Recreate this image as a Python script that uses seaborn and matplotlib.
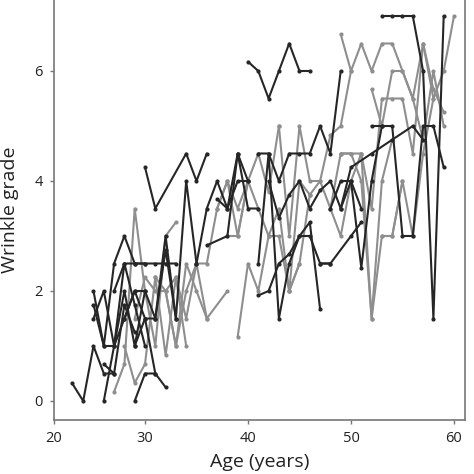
import numpy as np
import pandas as pd
import matplotlib
matplotlib.use("Agg")
import matplotlib.pyplot as plt
import seaborn as sns

# Longitudinal wrinkle grades, one list pair per subject
dark_ages = [
    [22.9, 24, 25, 26, 27],
    [25, 26, 27, 28, 29, 30],
    [25, 26, 27, 28, 29, 30],
    [25, 26, 27, 28, 29, 30, 31],
    [26, 27, 28, 29, 30],
    [26, 27, 28, 29],
    [29, 30, 31, 32],
    [27, 28, 29, 30, 31, 32, 33],
    [28, 29, 30, 31, 32, 33, 34, 35],
    [29, 30, 31, 32, 33],
    [30, 31, 34, 35, 36],
    [35, 36, 37, 38, 39, 40, 41],
    [36, 38, 39, 40],
    [37, 38, 39, 40],
    [40, 41, 42, 43, 44, 45, 46],
    [41, 42, 43, 44, 45, 46, 47, 48, 49],
    [41, 42, 43, 44, 45, 46, 47, 48],
    [41, 42, 43, 44, 45, 46, 47],
    [42, 43, 44, 45, 46, 47, 48, 49, 50, 51],
    [47, 48, 50, 51],
    [48, 49, 50, 51, 52, 53],
    [49, 50, 52, 54, 56, 57],
    [52, 53, 54, 55, 56, 57, 58, 59],
    [53, 54, 55, 56, 57, 58, 59],
]
dark_grades = [
    [0.33, 0.0, 1.0, 0.5, 0.5],
    [2.0, 1.0, 2.5, 3.0, 2.5, 2.5],
    [1.5, 2.0, 1.0, 2.0, 1.0, 2.0],
    [1.75, 1.0, 1.0, 1.5, 2.0, 1.5, 0.5],
    [0.0, 1.0, 2.5, 1.75, 1.0],
    [0.67, 0.5, 1.75, 1.25],
    [0.0, 0.5, 0.5, 0.25],
    [2.0, 2.5, 2.5, 2.5, 2.5, 2.5, 2.5],
    [1.5, 2.0, 2.0, 1.5, 2.75, 1.5, 4.0, 2.5],
    [1.0, 1.5, 1.5, 3.0, 1.5],
    [4.25, 3.5, 4.5, 4.0, 4.5],
    [2.5, 3.5, 4.0, 3.5, 4.5, 3.5, 3.5],
    [2.83, 3.0, 4.5, 4.0],
    [3.67, 3.5, 4.0, 4.0],
    [6.17, 6.0, 5.5, 6.0, 6.5, 6.0, 6.0],
    [4.5, 4.5, 4.0, 4.5, 4.5, 4.5, 5.0, 4.5, 6.0],
    [2.5, 4.5, 1.5, 2.5, 3.0, 3.0, 2.5, 2.5],
    [1.92, 2.0, 2.5, 2.67, 3.0, 3.25, 1.67],
    [4.0, 3.33, 3.75, 4.0, 3.5, 3.83, 4.0, 3.5, 4.0, 3.5],
    [2.5, 2.5, 3.0, 3.25],
    [3.5, 4.0, 4.0, 2.42, 4.0, 5.0],
    [3.5, 4.25, 4.5, 4.75, 5.0, 4.75],
    [5.0, 5.0, 5.0, 3.0, 3.0, 5.0, 5.0, 4.25],
    [7.0, 7.0, 7.0, 7.0, 6.0, 1.5, 7.0],
]

gray_ages = [
    [27, 28, 29, 30, 31, 32, 33],
    [28, 29, 30, 31, 32, 33, 34],
    [29, 30, 31, 32, 33, 34, 35, 36],
    [31, 32, 33, 34, 35, 36, 38],
    [32, 33, 34, 35, 36, 37, 38, 39, 40],
    [39, 40, 41, 42, 43, 44, 45],
    [37, 38, 39, 40, 41, 42, 43],
    [38, 39, 40, 41, 42, 43, 44, 45, 46],
    [43, 44, 45, 46, 47, 48, 49, 50, 51],
    [44, 45, 46, 47, 48, 49, 50],
    [49, 50, 51, 52, 53, 54, 55, 56, 57, 58],
    [48, 49, 50, 51, 52, 53, 54, 55],
    [52, 53, 54, 55, 56, 57, 58, 59],
    [53, 54, 55, 56, 57, 58, 59, 60],
    [51, 52, 53, 54, 55, 56, 57, 58, 59],
    [49, 50, 51, 52, 53, 54],
]
gray_grades = [
    [0.17, 0.67, 3.5, 2.0, 1.0, 3.0, 3.25],
    [1.0, 0.33, 0.67, 2.25, 0.83, 2.25, 1.0],
    [1.5, 2.25, 2.0, 2.0, 1.0, 2.5, 2.0, 1.5],
    [2.25, 2.0, 2.25, 1.5, 2.5, 1.5, 2.0],
    [2.0, 1.0, 2.0, 2.5, 2.5, 3.5, 4.0, 3.0, 4.0],
    [1.17, 2.5, 2.0, 3.0, 3.0, 2.0, 2.5],
    [3.5, 4.0, 3.5, 4.0, 4.5, 3.8, 5.0],
    [3.0, 3.0, 4.0, 3.5, 3.0, 3.5, 2.0, 2.5, 3.75],
    [5.0, 3.0, 5.0, 4.0, 4.0, 3.5, 3.0, 4.0, 4.5],
    [2.0, 4.0, 3.75, 4.0, 4.83, 5.0, 6.0],
    [6.67, 6.0, 6.5, 6.0, 6.5, 6.5, 6.0, 5.5, 6.5, 5.5],
    [3.5, 4.5, 4.5, 4.5, 1.5, 3.0, 3.0, 4.0],
    [5.67, 5.0, 6.0, 6.0, 5.5, 4.75, 6.0, 5.0],
    [3.0, 3.0, 4.0, 3.0, 4.5, 5.5, 6.0, 7.0],
    [4.5, 3.5, 5.5, 5.5, 5.5, 4.5, 6.5, 5.67, 5.25],
    [4.5, 4.5, 4.0, 1.5, 4.0, 4.75],
]

x_ticks = [30, 40, 50, 60]
y_ticks = [0, 2, 4, 6]

# build long table
rows = []
sid = 0
for group, ages, grades in [("dark", dark_ages, dark_grades), ("gray", gray_ages, gray_grades)]:
    for a, g in zip(ages, grades):
        for ai, gi in zip(a, g):
            rows.append({"subject": sid, "age": ai, "grade": gi, "group": group})
        sid += 1
df = pd.DataFrame(rows)

sns.set_style("white")
plt.rcParams['font.family'] = ['Open Sans', 'DejaVu Sans']

fig = plt.figure(figsize=(4.74, 4.74), dpi=100)
ax = fig.add_axes([54 / 474, 54 / 474, 411 / 474, 420 / 474])

palette = {"dark": "#262626", "gray": "#8e8e8e"}
# gray first so dark lines sit on top
for grp in ["gray", "dark"]:
    sns.lineplot(data=df[df.group == grp], x="age", y="grade", units="subject",
                 estimator=None, color=palette[grp], marker="o", markersize=3,
                 markeredgewidth=0, linewidth=1.5, ax=ax, legend=False)

x_left = 30 - 91 / 10.3
ax.set_xlim(x_left, 30 + 320 / 10.3)
ax.set_ylim(-19 / 55, 401 / 55)

ax.set_xticks([x_left] + x_ticks)
ax.set_xticklabels(["20"] + [str(t) for t in x_ticks])
ax.xaxis.get_major_ticks()[0].tick1line.set_visible(False)
ax.set_yticks(y_ticks)
ax.tick_params(axis="both", labelsize=10.5, length=3, width=1, color="#777777",
               pad=5, labelcolor="#222222", bottom=True, left=True)

ax.set_xlabel("Age (years)", fontsize=14, color="#222222")
ax.set_ylabel("Wrinkle grade", fontsize=14, color="#222222")
ax.xaxis.set_label_coords(0.5, -0.078)
ax.yaxis.set_label_coords(-0.086, 0.5)

for side in ["left", "bottom", "right"]:
    ax.spines[side].set_color("#777777")
    ax.spines[side].set_linewidth(1.2)
ax.spines["top"].set_visible(False)

fig.savefig("out.png", dpi=100)
